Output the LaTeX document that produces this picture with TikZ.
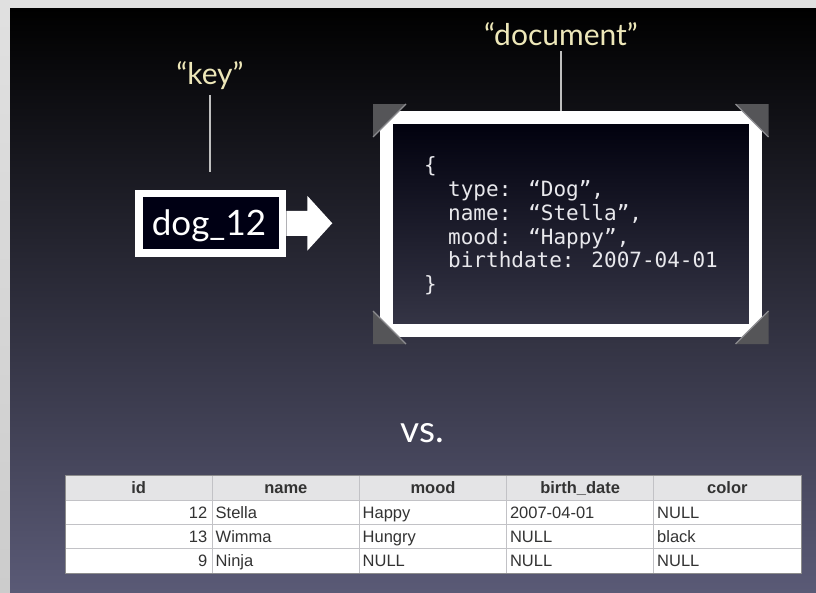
\documentclass[tikz,border=0pt]{standalone}
\usepackage{fontspec}
\setmainfont{Lato}
\newfontfamily\monofont{DejaVu Sans Mono}
\newfontfamily\tablefont{Liberation Sans}
\definecolor{labelyellow}{HTML}{EDE7B9}
\definecolor{slidebottom}{RGB}{90,90,118}
\definecolor{slidemid}{RGB}{28,28,50}
\definecolor{tabgray}{HTML}{555558}
\definecolor{tabedge}{HTML}{8C8C90}
\definecolor{codewhite}{HTML}{E8E8EC}
\definecolor{headfill}{HTML}{E4E4E6}
\definecolor{gridgray}{HTML}{C2C2C6}
\definecolor{celltext}{HTML}{333333}
\tikzset{
  callout/.style={font=\fontsize{30}{34}\selectfont, text=labelyellow, inner sep=0pt},
  leader/.style={draw=black!25, line width=1.6pt},
  codeline/.style={font=\monofont\fontsize{21}{24}\selectfont, text=codewhite, anchor=base west, inner sep=0pt},
  headcell/.style={font=\tablefont\bfseries\fontsize{16.5}{18}\selectfont, text=celltext, inner sep=0pt, anchor=base},
  datacell/.style={font=\tablefont\fontsize{16.5}{18}\selectfont, text=celltext, inner sep=0pt, anchor=base west},
  idcell/.style={font=\tablefont\fontsize{16.5}{18}\selectfont, text=celltext, inner sep=0pt, anchor=base east},
  tab/.style={fill=tabgray},
  tabline/.style={draw=tabedge, line width=1.2pt},
}
\begin{document}
\begin{tikzpicture}[x=1pt,y=-1pt]
\useasboundingbox (0,0) rectangle (816,592);
% outer border and slide background
\shade[top color=black!12, bottom color=black!20] (0,0) rectangle (816,592);
\shade[top color=black, middle color=slidemid, bottom color=slidebottom] (10,8) rectangle (816,592);

% key
\node[callout, anchor=base] (keylabel) at (210,84) {“key”};
\node[draw=white, line width=7.5pt, fill=black!92!blue, minimum width=143.5pt, minimum height=59.5pt, inner sep=0pt] (keybox) at (210.75,223.25) {};
\node[font=\fontsize{35}{40}\selectfont, text=white, anchor=base, inner sep=0pt] (keytext) at (209,235) {dog\_12};
\draw[leader, shorten <=6pt, shorten >=18pt] (keylabel.south) -- (keylabel.south |- keybox.north);
\fill[white] ([shift={(0,-12.5)}]keybox.east) -- ++(21,0) -- ++(0,-15) -- ++(25,27.5) -- ++(-25,27.5) -- ++(0,-15) -- ++(-21,0) -- cycle;

% document
\node[callout, anchor=base] (doclabel) at (561,45) {“document”};
\node[draw=white, line width=13pt, top color=black!95!blue, bottom color=slidebottom!60!black, minimum width=368.5pt, minimum height=213pt, inner sep=0pt] (docframe) at (570.75,224) {};
\draw[leader, shorten <=6pt] (doclabel.south) -- (doclabel.south |- docframe.north);

% photo corners
\coordinate (tl) at ([shift={(-7,-7)}]docframe.north west);
\coordinate (tr) at ([shift={(7,-7)}]docframe.north east);
\coordinate (bl) at ([shift={(-7,7)}]docframe.south west);
\coordinate (br) at ([shift={(7,7)}]docframe.south east);
\fill[tab] (tl) -- ++(33,0) -- ++(-33,33) -- cycle;
\fill[tab] (tr) -- ++(-33,0) -- ++(33,33) -- cycle;
\fill[tab] (bl) -- ++(33,0) -- ++(-33,-33) -- cycle;
\fill[tab] (br) -- ++(-33,0) -- ++(33,-33) -- cycle;
\draw[tabline] ([shift={(33,0)}]tl) -- ([shift={(0,33)}]tl);
\draw[tabline] ([shift={(-33,0)}]tr) -- ([shift={(0,33)}]tr);
\draw[tabline] ([shift={(33,0)}]bl) -- ([shift={(0,-33)}]bl);
\draw[tabline] ([shift={(-33,0)}]br) -- ([shift={(0,-33)}]br);

% code
\node[codeline] (c0) at (424,172) {\{};
\node[codeline] (c1) at (448,196.5) {type: “Dog”,};
\node[codeline] (c2) at (448,220.2) {name: “Stella”,};
\node[codeline] (c3) at (448,244) {mood: “Happy”,};
\node[codeline] (c4) at (448,267.7) {birthdate: 2007-04-01};
\node[codeline] (c5) at (424,291.4) {\}};

% vs.
\node[font=\fontsize{37}{40}\selectfont, text=white, anchor=base, inner sep=0pt] (vs) at (422,442) {vs.};

% table
\fill[headfill] (65,475) rectangle (801,500);
\fill[white] (65,500) rectangle (801,573);
\foreach \y in {500,524.5,548.5} \draw[gridgray, line width=0.8pt] (65,\y) -- (801,\y);
\foreach \x in {212.2,359.4,506.6,653.8} \draw[gridgray, line width=0.8pt] (\x,475) -- (\x,573);
\draw[black!45, line width=0.8pt] (65,475) rectangle (801,573);

\node[headcell] (hid) at (138.6,493) {id};
\node[headcell] (hname) at (285.8,493) {name};
\node[headcell] (hmood) at (433,493) {mood};
\node[headcell] (hbirth) at (580.2,493) {birth\_date};
\node[headcell] (hcolor) at (727.4,493) {color};

\node[idcell] (id1) at (207.5,518) {12};
\node[datacell] (n1) at (215.5,518) {Stella};
\node[datacell] (m1) at (362.5,518) {Happy};
\node[datacell] (b1) at (509.8,518) {2007-04-01};
\node[datacell] (k1) at (657,518) {NULL};

\node[idcell] (id2) at (207.5,542.3) {13};
\node[datacell] (n2) at (215.5,542.3) {Wimma};
\node[datacell] (m2) at (362.5,542.3) {Hungry};
\node[datacell] (b2) at (509.8,542.3) {NULL};
\node[datacell] (k2) at (657,542.3) {black};

\node[idcell] (id3) at (207.5,566.5) {9};
\node[datacell] (n3) at (215.5,566.5) {Ninja};
\node[datacell] (m3) at (362.5,566.5) {NULL};
\node[datacell] (b3) at (509.8,566.5) {NULL};
\node[datacell] (k3) at (657,566.5) {NULL};
\end{tikzpicture}
\end{document}
